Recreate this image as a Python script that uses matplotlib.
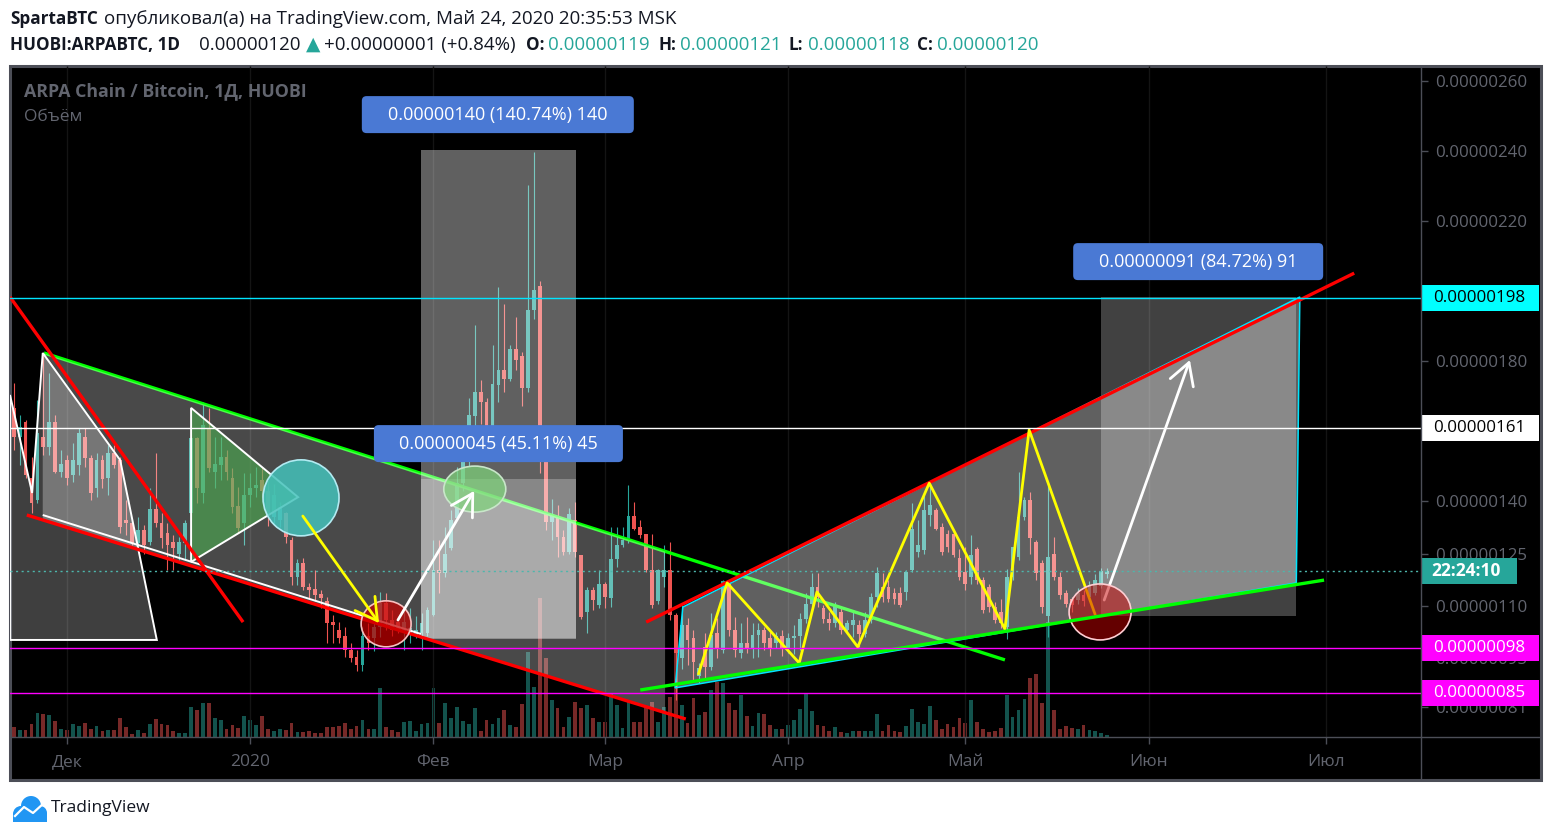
import numpy as np
import pandas as pd
import matplotlib
matplotlib.use("Agg")
import matplotlib.pyplot as plt
from matplotlib.patches import Rectangle, Polygon, Ellipse, FancyBboxPatch, Circle
from matplotlib.lines import Line2D
from matplotlib.transforms import blended_transform_factory, IdentityTransform

plt.rcParams["font.family"] = ["Open Sans", "DejaVu Sans"]

# ---------------------------------------------------------------------------
# HUOBI ARPA/BTC daily candles, prices in satoshi (1e-8 BTC), from 2019-11-22
# ---------------------------------------------------------------------------
first_day = "2019-11-22"
origin = "2019-12-01"

opens = [
    166.5, 158.4, 162.7, 146.5, 140.3, 158.4, 155.5, 162.7, 148.4, 151.7,
    147.4, 150.3, 158.4, 152.2, 143.6, 151.7, 146.5, 153.6, 151.7, 134.6,
    133.6, 127.9, 131.7, 128.4, 137.6, 133.8, 130.8, 128.4, 125.0, 127.9,
    136.5, 157.9, 142.2, 160.8, 148.4, 150.3, 152.7, 146.5, 138.6, 133.6,
    141.7, 143.6, 146.0, 143.0, 135.5, 134.6, 136.5, 128.9, 118.4, 122.2,
    115.5, 114.8, 113.4, 111.3, 105.5, 103.2, 101.3, 97.4, 95.5, 93.2,
    101.3, 100.8, 104.1, 110.8, 106.0, 105.5, 102.7, 102.2, 101.7, 102.2,
    102.2, 107.4, 120.3, 119.3, 126.5, 135.1, 145.1, 151.3, 164.2, 171.2,
    168.3, 160.3, 173.1, 177.4, 175.0, 183.3, 181.4, 172.2, 194.5, 201.4,
    153.0, 134.0, 135.5, 129.8, 125.5, 134.5, 124.5, 108.3, 114.5, 110.2,
    116.4, 112.2, 123.3, 127.4, 128.8, 135.7, 132.6, 130.5, 120.2, 111.3,
    118.4, 120.3, 107.5, 95.1, 104.6, 100.8, 89.9, 98.4, 92.7, 102.2,
    97.5, 117.0, 103.2, 96.5, 99.4, 98.0, 101.8, 103.2, 100.8, 99.4,
    101.3, 98.0, 100.8, 101.3, 106.4, 110.7, 115.5, 109.3, 106.4, 105.0,
    108.3, 103.1, 104.6, 104.6, 102.1, 106.0, 112.6, 115.5, 115.5, 113.6,
    113.6, 114.0, 120.2, 125.5, 126.0, 136.0, 137.4, 132.6, 130.7, 130.7,
    123.6, 119.8, 118.4, 126.4, 117.4, 115.5, 109.8, 108.3, 104.0, 118.3,
    124.0, 135.5, 140.2, 128.3, 122.2, 107.0, 125.0, 118.3, 113.6, 112.1,
    111.8, 113.2, 112.7, 113.7, 115.6, 119.0,
]
highs = [
    173.6, 164.6, 163.1, 152.7, 168.9, 182.2, 176.5, 164.6, 154.6, 153.1,
    156.5, 160.8, 160.8, 153.1, 153.6, 153.1, 156.0, 156.0, 152.7, 140.3,
    134.6, 135.5, 133.1, 143.6, 153.6, 136.5, 133.6, 130.3, 129.8, 134.6,
    158.4, 158.4, 168.4, 166.5, 158.4, 158.4, 154.6, 149.3, 144.1, 147.9,
    147.9, 149.8, 149.8, 146.0, 145.0, 139.8, 137.0, 129.8, 123.3, 123.6,
    116.5, 120.3, 114.6, 112.7, 107.4, 105.5, 104.1, 99.3, 97.4, 104.1,
    105.1, 106.0, 114.1, 113.6, 108.9, 107.0, 108.9, 109.3, 107.0, 107.9,
    109.8, 128.9, 128.9, 132.7, 137.4, 149.8, 152.0, 169.3, 190.4, 174.5,
    169.3, 184.5, 201.2, 196.4, 184.5, 192.6, 182.6, 230.2, 239.8, 203.0,
    155.0, 140.7, 138.8, 131.7, 137.9, 139.8, 124.5, 115.5, 115.5, 120.2,
    116.9, 132.6, 132.6, 132.6, 144.5, 139.8, 134.5, 130.7, 130.7, 120.7,
    127.4, 128.4, 108.0, 110.3, 106.5, 103.2, 93.7, 102.2, 108.0, 106.5,
    117.5, 117.5, 106.9, 105.0, 106.9, 105.0, 105.0, 104.1, 103.2, 102.7,
    103.2, 102.2, 104.6, 107.9, 113.6, 119.3, 119.3, 110.2, 108.3, 111.2,
    109.8, 106.0, 108.3, 106.0, 108.3, 113.6, 121.2, 119.5, 117.4, 115.0,
    115.5, 120.2, 139.3, 134.5, 142.2, 144.9, 137.9, 133.6, 131.7, 131.2,
    126.4, 126.9, 130.2, 126.9, 118.3, 116.4, 111.2, 112.1, 120.7, 126.9,
    148.3, 141.2, 142.6, 128.8, 123.1, 144.5, 129.8, 119.8, 114.5, 112.6,
    115.0, 114.5, 117.0, 119.0, 121.0, 121.0,
]
lows = [
    154.6, 150.3, 146.5, 136.5, 139.3, 153.1, 153.1, 147.9, 147.0, 144.6,
    145.5, 147.4, 149.8, 140.3, 141.2, 143.6, 141.7, 149.3, 130.8, 130.3,
    127.4, 126.5, 125.0, 127.4, 132.7, 126.5, 120.3, 120.3, 123.1, 123.1,
    134.6, 139.3, 139.3, 148.4, 143.6, 146.0, 146.0, 136.5, 130.8, 127.4,
    138.4, 141.2, 141.2, 133.0, 133.6, 132.7, 127.9, 116.0, 116.0, 114.6,
    112.2, 111.3, 109.3, 99.3, 99.3, 99.3, 95.5, 94.1, 91.3, 91.3,
    97.4, 97.0, 101.0, 103.2, 101.3, 102.2, 97.4, 99.3, 100.8, 97.4,
    101.3, 107.0, 113.6, 118.4, 126.0, 134.6, 143.0, 150.0, 160.0, 162.0,
    158.0, 158.0, 168.3, 171.2, 174.3, 177.4, 167.1, 171.2, 192.1, 148.0,
    131.7, 129.0, 124.0, 124.6, 125.0, 124.0, 106.4, 102.2, 108.8, 109.3,
    109.3, 109.8, 121.2, 126.9, 127.9, 131.7, 129.3, 119.8, 109.3, 110.7,
    115.5, 106.0, 83.2, 92.1, 93.2, 88.9, 88.0, 89.4, 91.8, 95.1,
    96.5, 101.3, 95.5, 95.0, 96.5, 95.0, 95.5, 97.5, 95.6, 98.0,
    95.6, 96.5, 96.4, 97.4, 105.0, 109.8, 109.8, 105.0, 103.1, 104.1,
    102.1, 102.1, 101.2, 98.3, 101.2, 105.0, 109.8, 111.0, 111.2, 110.7,
    109.8, 111.7, 119.8, 124.0, 125.0, 133.0, 131.7, 124.5, 125.5, 124.1,
    117.4, 114.5, 116.4, 116.4, 107.9, 108.3, 105.0, 103.6, 100.7, 117.4,
    123.1, 134.5, 125.0, 117.4, 107.9, 101.0, 117.4, 112.1, 109.8, 108.3,
    110.5, 110.0, 111.5, 113.0, 115.0, 118.0,
]
closes = [
    158.4, 161.2, 147.4, 139.3, 159.3, 155.5, 162.7, 148.4, 150.6, 146.5,
    151.7, 159.3, 152.2, 142.4, 151.7, 146.2, 153.6, 150.3, 132.7, 133.6,
    127.9, 131.7, 127.4, 137.6, 133.6, 129.3, 127.4, 126.5, 128.4, 133.8,
    157.9, 143.6, 161.7, 149.3, 150.6, 152.7, 148.4, 138.4, 132.2, 141.7,
    143.6, 144.6, 143.0, 136.0, 141.7, 138.4, 129.8, 118.4, 122.4, 115.5,
    114.6, 113.2, 112.2, 105.1, 104.6, 100.8, 97.4, 95.1, 93.2, 101.3,
    99.3, 104.1, 110.8, 106.0, 103.2, 103.2, 105.5, 103.6, 103.2, 105.1,
    108.9, 120.3, 119.3, 125.0, 134.6, 145.1, 151.3, 164.5, 171.2, 168.3,
    160.3, 173.3, 177.4, 175.0, 183.3, 180.2, 172.2, 194.5, 200.2, 153.0,
    134.0, 136.0, 129.8, 125.5, 136.4, 125.5, 106.9, 114.5, 111.7, 116.4,
    112.6, 123.3, 127.4, 128.8, 135.7, 132.1, 130.2, 120.2, 110.2, 120.3,
    120.3, 107.5, 96.5, 104.5, 100.3, 94.1, 92.2, 92.7, 101.8, 98.0,
    117.0, 103.2, 97.5, 99.4, 98.0, 101.8, 103.2, 99.4, 98.0, 101.3,
    98.0, 100.8, 101.3, 106.4, 110.7, 115.5, 112.6, 106.4, 105.0, 110.2,
    103.1, 105.0, 106.0, 102.1, 106.0, 112.6, 119.3, 112.6, 112.1, 112.1,
    110.2, 119.8, 132.1, 127.4, 137.4, 139.0, 132.1, 125.5, 126.9, 124.5,
    118.4, 116.4, 124.5, 117.4, 108.8, 109.8, 106.0, 105.0, 118.3, 126.9,
    135.5, 140.2, 129.3, 119.3, 109.8, 124.0, 118.3, 113.1, 110.7, 110.2,
    113.7, 111.3, 116.1, 117.5, 119.9, 120.0,
]
volumes = [
    10, 7, 7, 13, 24, 23, 22, 16, 8, 7, 13, 11, 14, 8, 11, 6, 7, 7, 19, 10,
    3, 7, 4, 13, 18, 13, 12, 6, 4, 4, 30, 27, 34, 34, 19, 17, 8, 12, 9, 21,
    17, 12, 21, 8, 6,
    8, 7, 14, 5, 5, 6, 4, 4, 10, 10, 11, 14, 8, 11, 17, 8, 8, 49, 10, 7,
    5, 15, 16, 6, 13, 14, 49, 14, 34, 19, 30, 16, 13, 29, 6, 17, 13, 19, 27, 12,
    10, 33, 85, 50,
    139, 79, 37, 29, 10, 20, 35, 29, 32, 19, 15, 15, 44, 32, 9, 37, 15, 15, 29, 35,
    15, 30, 40, 104, 32, 14, 39,
    22, 25, 47, 55, 54, 34, 27, 42, 21, 11, 24, 23, 12, 8, 8, 12, 17, 28, 44, 26,
    12, 11, 6, 10, 5, 4, 6, 6, 6, 6, 23, 6, 12, 6, 5, 11, 28, 15, 13, 31,
    17, 8, 13, 10, 19, 14, 37, 15, 8, 5, 6, 9, 42, 20, 27, 38, 59, 63, 34, 115,
    27, 8, 11, 9, 8, 12, 7, 6, 4, 2,
]

month_starts = ["2019-12-01", "2020-01-01", "2020-02-01", "2020-03-01",
                "2020-04-01", "2020-05-01", "2020-06-01", "2020-07-01"]
month_labels = ["Дек", "2020", "Фев", "Мар", "Апр", "Май", "Июн", "Июл"]
# 160 and 200 sit fully under the level badges, so only the visible ones
price_ticks = [81, 95, 110, 125, 140, 180, 220, 240, 260]
last_price = 120.0

# horizontal levels drawn by the author
level_prices = [198, 161, 98, 85]
level_colors = ["#00e5ff", "#ffffff", "#ff00ff", "#ff00ff"]
level_box = ["#00ffff", "#ffffff", "#ff00ff", "#ff00ff"]
level_text = ["black", "black", "white", "white"]

# drawings, anchored at (days since 2019-12-01, price in satoshi)
red_steep = [(-9.64, 198.3), (29.8, 105.4)]
green_upper = [(-3.9, 182.3), (158.7, 94.6)]
red_lower = [(-6.8, 136.0), (104.7, 77.7)]
white_lower = [(-4.1, 136.0), (59.9, 102.0)]
red_wedge = [(98.0, 105.4), (217.8, 205.1)]
green_wedge = [(97.0, 86.0), (212.7, 117.4)]
zigzag = [(106.8, 90.3), (111.7, 116.6), (123.9, 93.7), (126.9, 114.0),
          (133.8, 98.3), (145.9, 145.1), (158.7, 103.4), (162.8, 160.3),
          (174.0, 107.4)]
channel_poly = [(-4.1, 182.3), (101.2, 125.6), (101.2, 79.5), (-4.1, 134.6)]
left_poly = [(-9.64, 170.3), (-5.9, 142.3), (-4.1, 182.3), (9.0, 151.7),
             (15.2, 100.3), (-9.64, 100.3)]
green_tri = [(21.0, 166.6), (39.1, 141.1), (21.0, 122.6)]
wedge_poly = [(102.9, 86.6), (104.2, 109.7), (208.6, 198.3), (208.0, 116.6)]
range_boxes = [(59.9, 86.1, 100.5, 240.3), (59.9, 86.1, 100.9, 146.3),
               (175.0, 208.0, 107.1, 198.3)]
range_texts = ["0.00000140 (140.74%) 140", "0.00000045 (45.11%) 45",
               "0.00000091 (84.72%) 91"]
range_label_at = [(72.9, 250.4), (73.0, 156.4), (191.4, 208.4)]
range_label_px = [272, 249, 250]

# ---------------------------------------------------------------------------
TEAL, RED = "#26a69a", "#ef5350"
FRAME = "#4c4e57"
AXTXT = "#62656f"

W, H = 1552, 836
fig = plt.figure(figsize=(W / 100, H / 100), dpi=100, facecolor="white")


def fx(px):
    return px / W


def fy(py):
    return 1 - py / H


L, R, T, B = 10, 1421, 66, 737
FR, FB = 1541, 780

fig.add_artist(Rectangle((fx(L), fy(FB)), fx(FR) - fx(L), fy(T) - fy(FB),
                         transform=fig.transFigure, facecolor="black",
                         edgecolor=FRAME, lw=2.2, zorder=-2))
for xs, ys in [([fx(R), fx(R)], [fy(T), fy(FB)]), ([fx(L), fx(FR)], [fy(B), fy(B)])]:
    fig.add_artist(Line2D(xs, ys, transform=fig.transFigure, color=FRAME, lw=1, zorder=1))

ax = fig.add_axes([fx(L), fy(B), (R - L) / W, (B - T) / H])
vax = ax.twinx()
vax.set_zorder(-1)
ax.set_zorder(0)
ax.patch.set_visible(False)
vax.patch.set_visible(False)
for a in (ax, vax):
    for s in a.spines.values():
        s.set_visible(False)

xlim = (-9.64, 229.1)
ylim = (72.57, 264.29)
ax.set_xlim(*xlim)
ax.set_ylim(*ylim)
px_day = (R - L) / (xlim[1] - xlim[0])
px_unit = (B - T) / (ylim[1] - ylim[0])

o, h, l, c = (np.array(v, dtype=float) for v in (opens, highs, lows, closes))
days = (pd.date_range(first_day, periods=len(c)) - pd.Timestamp(origin)).days.to_numpy()
up = c >= o
col = np.where(up, TEAL, RED)

# volume pane (own scale, bottom of the chart)
vax.bar(days, volumes, width=0.64, color=col, alpha=0.5, lw=0)
vax.set_ylim(0, B - T)
vax.set_yticks([])
vax.tick_params(right=False, labelright=False)

# faint month grid
month_x = (pd.to_datetime(month_starts) - pd.Timestamp(origin)).days.to_numpy()
ax.vlines(month_x, ylim[0], ylim[1], colors="#141414", lw=1, zorder=0.5)

# candles
ax.vlines(days, l, h, colors=col, lw=0.8, zorder=2)
body = np.maximum(np.abs(c - o), 0.35)
ax.bar(days, body, bottom=np.minimum(o, c), width=0.64, color=col, lw=0, zorder=2.1)

# axes ticks
ax.set_xticks(month_x)
ax.set_xticklabels(month_labels)
ax.tick_params(axis="x", length=5, width=1, color=FRAME, labelcolor=AXTXT,
               labelsize=12.5, pad=7)
ax.yaxis.tick_right()
ax.set_yticks(price_ticks)
ax.set_yticklabels([f"{p / 1e8:.8f}" for p in price_ticks])
ax.tick_params(axis="y", length=5, width=1, color=FRAME, labelcolor=AXTXT,
               labelsize=12.2, pad=5)


def line(pts, color, lw, z):
    xs, ys = zip(*pts)
    ax.plot(xs, ys, color=color, lw=lw, zorder=z, solid_capstyle="butt")


# green upper line sits under the translucent shapes
line(green_upper, "#00ff00", 2.4, 2.5)

ax.add_patch(Polygon(channel_poly, closed=True, facecolor="white", alpha=0.29,
                     lw=0, zorder=3))
ax.add_patch(Polygon(left_poly, closed=True, facecolor="white", alpha=0.25,
                     lw=0, zorder=3.05))
ax.add_patch(Polygon(left_poly, closed=True, fill=False, edgecolor="white",
                     lw=1.4, zorder=3.06))
for (x0, x1, y0, y1), a in zip(range_boxes, [0.38, 0.25, 0.26]):
    ax.add_patch(Rectangle((x0, y0), x1 - x0, y1 - y0, facecolor="white",
                           alpha=a, edgecolor="none", zorder=3.1))
ax.add_patch(Polygon(wedge_poly, closed=True, facecolor="white", alpha=0.38,
                     lw=0, zorder=3.2))
ax.add_patch(Polygon(wedge_poly, closed=True, fill=False, edgecolor="#00e5ff",
                     lw=1.1, zorder=3.21))
ax.add_patch(Polygon(green_tri, closed=True, facecolor="#4caf50", alpha=0.6,
                     edgecolor="none", zorder=3.3))
ax.add_patch(Polygon(green_tri, closed=True, fill=False, edgecolor="white",
                     lw=1.4, zorder=3.31))


def ellipse(xy, wpx, hpx, face, alpha, edge, z):
    ax.add_patch(Ellipse(xy, wpx / px_day, hpx / px_unit, facecolor=face,
                         alpha=alpha, edgecolor="none", zorder=z))
    ax.add_patch(Ellipse(xy, wpx / px_day, hpx / px_unit, fill=False,
                         edgecolor=edge, lw=1.2, zorder=z + 0.01))


ellipse((39.6, 140.9), 76, 76, "#44c2bb", 0.85, "#b2ebf2", 3.4)
ellipse((69.0, 143.4), 62, 46, "#7ed67a", 0.7, "#c8e6c9", 3.45)

line(red_steep, "#ff0000", 2.4, 4)
line(red_lower, "#ff0000", 2.4, 4)
line(white_lower, "#ffffff", 1.4, 3.9)
line(red_wedge, "#ff0000", 2.4, 4)
line(zigzag, "#ffff00", 2.0, 4.2)

ellipse((54.0, 104.9), 50, 46, "#c40000", 0.72, "#f8c0c0", 4.3)


def arrow(p0, p1, color, z):
    ax.annotate("", xy=p1, xytext=p0, zorder=z,
                arrowprops=dict(arrowstyle="->,head_length=0.7,head_width=0.4",
                                color=color, lw=2.0, shrinkA=0, shrinkB=0,
                                mutation_scale=22))


arrow((39.9, 135.7), (52.8, 105.1), "#ffff00", 4.5)
arrow((56.0, 106.0), (68.9, 142.9), "#ffffff", 4.5)
arrow((175.5, 111.7), (190.0, 180.3), "#ffffff", 4.25)

ellipse((174.8, 108.3), 62, 56, "#c80000", 0.5, "#ffcdd2", 4.4)
line(green_wedge, "#00ff00", 2.4, 4.6)

# horizontal levels and price-scale badges
badge = blended_transform_factory(ax.transAxes, ax.transData)
bw = 118 / (R - L)
bh = 26 / px_unit
for p, lc, bc, tc in zip(level_prices, level_colors, level_box, level_text):
    ax.axhline(p, color=lc, lw=1, zorder=5)
    ax.add_patch(Rectangle((1.0, p - bh / 2), bw, bh, transform=badge, facecolor=bc,
                           edgecolor="none", clip_on=False, zorder=8))
    ax.text(1.0 + 12 / (R - L), p, f"{p / 1e8:.8f}", transform=badge, color=tc,
            fontsize=12.2, va="center", ha="left", clip_on=False, zorder=9)

ax.axhline(last_price, color="#4db6ac", lw=1, ls=(0, (1.5, 2.5)), zorder=5)
ax.add_patch(Rectangle((1.0, last_price - bh / 2), 96 / (R - L), bh, transform=badge,
                       facecolor=TEAL, edgecolor="none", clip_on=False, zorder=8))
ax.text(1.0 + 10 / (R - L), last_price, "22:24:10", transform=badge, color="white",
        fontsize=12.5, fontweight="bold", va="center", ha="left", clip_on=False, zorder=9)

# range measurement labels
for (xc, yc), s, wpx in zip(range_label_at, range_texts, range_label_px):
    wd, hd = wpx / px_day, 37 / px_unit
    ax.add_patch(FancyBboxPatch((xc - wd / 2, yc - hd / 2), wd, hd,
                                boxstyle="round,pad=0,rounding_size=0.8",
                                mutation_aspect=px_day / px_unit,
                                facecolor="#4a79d4", edgecolor="none", zorder=6,
                                clip_on=False))
    ax.text(xc, yc, s, color="white", fontsize=13, ha="center", va="center", zorder=7)

# pane legend
ax.text(14 / (R - L), 1 - 25 / (B - T), "ARPA Chain / Bitcoin, 1Д, HUOBI",
        transform=ax.transAxes, color=AXTXT, fontsize=12.8, fontweight="bold",
        va="center", ha="left", zorder=9)
ax.text(14 / (R - L), 1 - 51 / (B - T), "Объём", transform=ax.transAxes,
        color=AXTXT, fontsize=12.5, va="center", ha="left", zorder=9)

# header
DARK = "#131722"
header = [
    ("SpartaBTC", 10, 19, DARK, "bold"),
    ("опубликовал(а) на TradingView.com, Май 24, 2020 20:35:53 MSK", 104, 19, DARK, "normal"),
    ("HUOBI:ARPABTC, 1D", 10, 45, DARK, "bold"),
    ("0.00000120", 199, 45, DARK, "normal"),
    ("▲", 306, 45, TEAL, "normal"),
    ("+0.00000001 (+0.84%)", 324, 45, DARK, "normal"),
    ("O:", 526, 45, DARK, "bold"),
    ("0.00000119", 548, 45, TEAL, "normal"),
    ("H:", 658, 45, DARK, "bold"),
    ("0.00000121", 680, 45, TEAL, "normal"),
    ("L:", 789, 45, DARK, "bold"),
    ("0.00000118", 808, 45, TEAL, "normal"),
    ("C:", 917, 45, DARK, "bold"),
    ("0.00000120", 937, 45, TEAL, "normal"),
]
for s, xp, yp, cc, wt in header:
    fig.text(fx(xp), fy(yp), s, color=cc, fontsize=13.5 if wt == "normal" else 12.3,
             fontweight=wt, va="center", ha="left")

# footer logo
ident = IdentityTransform()
for cx, cy, r in [(21, 836 - 814, 8), (31, 836 - 806, 10), (40, 836 - 813, 7)]:
    fig.add_artist(Circle((cx, cy), r, transform=ident, facecolor="#2196f3",
                          edgecolor="none"))
fig.add_artist(Rectangle((13, 836 - 822), 34, 9, transform=ident,
                         facecolor="#2196f3", edgecolor="none"))
fig.add_artist(Line2D([15, 24, 33, 44], [836 - 816, 836 - 807, 836 - 813, 836 - 803],
                      transform=ident, color="white", lw=1.6))
fig.text(fx(51), fy(808), "TradingView", color=DARK, fontsize=12.5,
         va="center", ha="left")

fig.savefig("out.png", dpi=100, facecolor="white")
